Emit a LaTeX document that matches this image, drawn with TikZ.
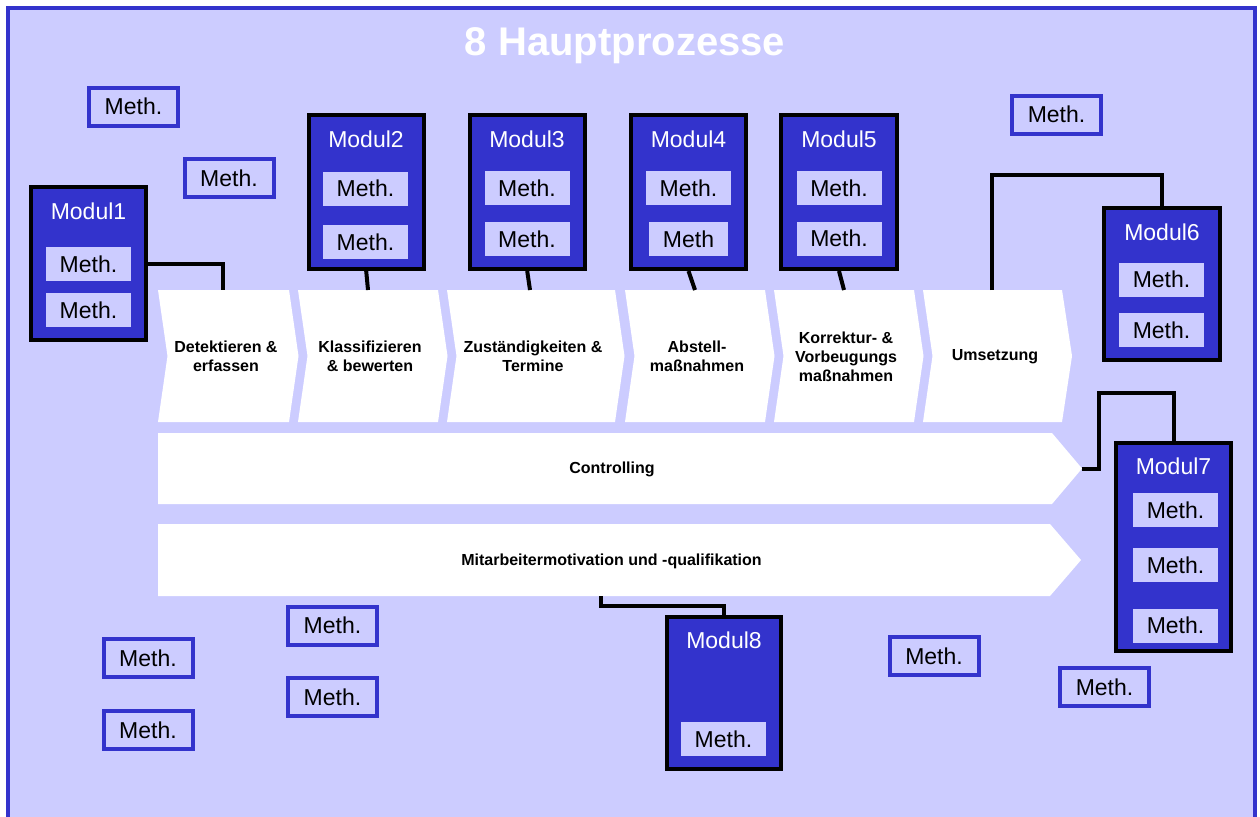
\documentclass[tikz,border=0pt]{standalone}
\usepackage{fontspec}
\setmainfont{Liberation Sans}
\usetikzlibrary{calc}
\definecolor{mblue}{RGB}{51,51,204}
\definecolor{lback}{RGB}{204,204,255}
\tikzset{
  frame/.style={draw=mblue, line width=4pt, fill=lback},
  modbox/.style={draw=black, line width=4pt, fill=mblue, inner sep=0pt, minimum width=115pt},
  mlabel/.style={text=white, inner sep=0pt, font=\fontsize{23}{27}\selectfont},
  methin/.style={fill=lback, minimum width=85pt, minimum height=34pt, inner sep=0pt, text=black, font=\fontsize{23}{27}\selectfont},
  methfree/.style={draw=mblue, line width=4pt, fill=lback, minimum width=89pt, minimum height=38pt, inner sep=0pt, text=black, font=\fontsize{23}{27}\selectfont},
  chev/.style={fill=white},
  ctext/.style={align=center, inner sep=0pt, font=\fontsize{16}{19}\selectfont\bfseries},
  conn/.style={draw=black, line width=4pt},
  ttl/.style={text=white, inner sep=0pt, font=\fontsize{40}{48}\selectfont\bfseries}
}
\begin{document}
\begin{tikzpicture}[x=1pt,y=-1pt]
\useasboundingbox (0,0) rectangle (1260,816);
% frame
\draw[frame] (8,8) rectangle (1254.5,840);
% title
\node[ttl, anchor=base] (title) at (625,55.7) {8 Hauptprozesse};
% chevrons
\fill[chev] (158,290) -- (289,290) -- (298.5,356) -- (289,422) -- (158,422) -- (167.5,356) -- cycle;
\fill[chev] (298,290) -- (438,290) -- (447.5,356) -- (438,422) -- (298,422) -- (307.5,356) -- cycle;
\fill[chev] (447,290) -- (615,290) -- (624.5,356) -- (615,422) -- (447,422) -- (456.5,356) -- cycle;
\fill[chev] (625,290) -- (765,290) -- (774.5,356) -- (765,422) -- (625,422) -- (634.5,356) -- cycle;
\fill[chev] (774,290) -- (914,290) -- (923.5,356) -- (914,422) -- (774,422) -- (783.5,356) -- cycle;
\fill[chev] (923,290) -- (1062,290) -- (1072,356) -- (1062,422) -- (923,422) -- (932.5,356) -- cycle;
\fill[chev] (158,433) -- (1052,433) -- (1082,468.5) -- (1052,504) -- (158,504) -- cycle;
\fill[chev] (158,524) -- (1050,524) -- (1081,560) -- (1050,596) -- (158,596) -- cycle;
% connector end points on the chevrons
\coordinate (ch1t) at (223,290);
\coordinate (ch2t) at (368,290);
\coordinate (ch3t) at (530,290);
\coordinate (ch4t) at (695,290);
\coordinate (ch5t) at (844,290);
\coordinate (ch6t) at (992,290);
\coordinate (ctip) at (1082,468.5);
\coordinate (mtb) at (601,596);
\coordinate (k6) at (1162,175);
\coordinate (k7) at (1099,393);
\coordinate (k8) at (724,606);
% chevron texts
\node[ctext] (t1) at (226,356.5) {Detektieren \&\\erfassen};
\node[ctext] (t2) at (370,356.5) {Klassifizieren\\\& bewerten};
\node[ctext] (t3) at (533,356.5) {Zuständigkeiten \&\\Termine};
\node[ctext] (t4) at (697,356.5) {Abstell-\\maßnahmen};
\node[ctext] (t5) at (846,356.5) {Korrektur- \&\\Vorbeugungs\\maßnahmen};
\node[ctext] (t6) at (995,356.5) {Umsetzung};
\node[ctext] (t7) at (612,469) {Controlling};
\node[ctext] (t8) at (611.5,561) {Mitarbeitermotivation und -qualifikation};
% modules
\node[modbox, minimum height=153pt] (m1) at (88.8,263.5) {};
\node[modbox, minimum height=154pt] (m2) at (366.2,192) {};
\node[modbox, minimum height=154pt] (m3) at (527.2,192) {};
\node[modbox, minimum height=154pt] (m4) at (688.5,192) {};
\node[modbox, minimum height=154pt, minimum width=116pt] (m5) at (839,192) {};
\node[modbox, minimum height=152pt, minimum width=116pt] (m6) at (1162,284) {};
\node[modbox, minimum height=208pt] (m7) at (1173.5,547) {};
\node[modbox, minimum height=152pt, minimum width=114pt] (m8) at (724,693) {};
% connectors
\draw[conn] (m1.east) -| (ch1t);
\draw[conn] (m2.south) -- (ch2t);
\draw[conn] (m3.south) -- (ch3t);
\draw[conn] (m4.south) -- (ch4t);
\draw[conn] (m5.south) -- (ch5t);
\draw[conn] (ch6t) |- (k6) -- (m6.north);
\draw[conn] (ctip) -| (k7) -| (m7.north);
\draw[conn] (mtb) |- (k8) -- (m8.north);
% module labels
\node[mlabel] (l1) at (88.5,211) {Modul1};
\node[mlabel] (l2) at (366,139) {Modul2};
\node[mlabel] (l3) at (527,139) {Modul3};
\node[mlabel] (l4) at (688.5,139) {Modul4};
\node[mlabel] (l5) at (839,139) {Modul5};
\node[mlabel] (l6) at (1162,232) {Modul6};
\node[mlabel] (l7) at (1173.5,466) {Modul7};
\node[mlabel] (l8) at (724,640) {Modul8};
% methods inside modules
\node[methin] (a1) at (88.5,264) {Meth.};
\node[methin] (a2) at (88.5,310) {Meth.};
\node[methin] (b1) at (365.5,188.5) {Meth.};
\node[methin] (b2) at (365.5,242) {Meth.};
\node[methin] (c1) at (527,188) {Meth.};
\node[methin] (c2) at (527,239) {Meth.};
\node[methin] (d1) at (688.5,188) {Meth.};
\node[methin, minimum width=79pt] (d2) at (688.5,239) {Meth};
\node[methin] (e1) at (839,188) {Meth.};
\node[methin] (e2) at (839,238.5) {Meth.};
\node[methin] (f1) at (1161.5,279.5) {Meth.};
\node[methin] (f2) at (1161.5,330) {Meth.};
\node[methin] (g1) at (1175.5,510) {Meth.};
\node[methin] (g2) at (1175.5,565) {Meth.};
\node[methin] (g3) at (1175.5,625.5) {Meth.};
\node[methin] (h1) at (723.5,739) {Meth.};
% free methods
\node[methfree] (p1) at (133.5,106.5) {Meth.};
\node[methfree] (p2) at (229,178) {Meth.};
\node[methfree] (p3) at (1056.5,114.5) {Meth.};
\node[methfree] (p4) at (148,658) {Meth.};
\node[methfree] (p5) at (148,730) {Meth.};
\node[methfree] (p6) at (332.5,625.5) {Meth.};
\node[methfree] (p7) at (332.5,697) {Meth.};
\node[methfree] (p8) at (934,656) {Meth.};
\node[methfree] (p9) at (1104.5,687) {Meth.};
\end{tikzpicture}
\end{document}
